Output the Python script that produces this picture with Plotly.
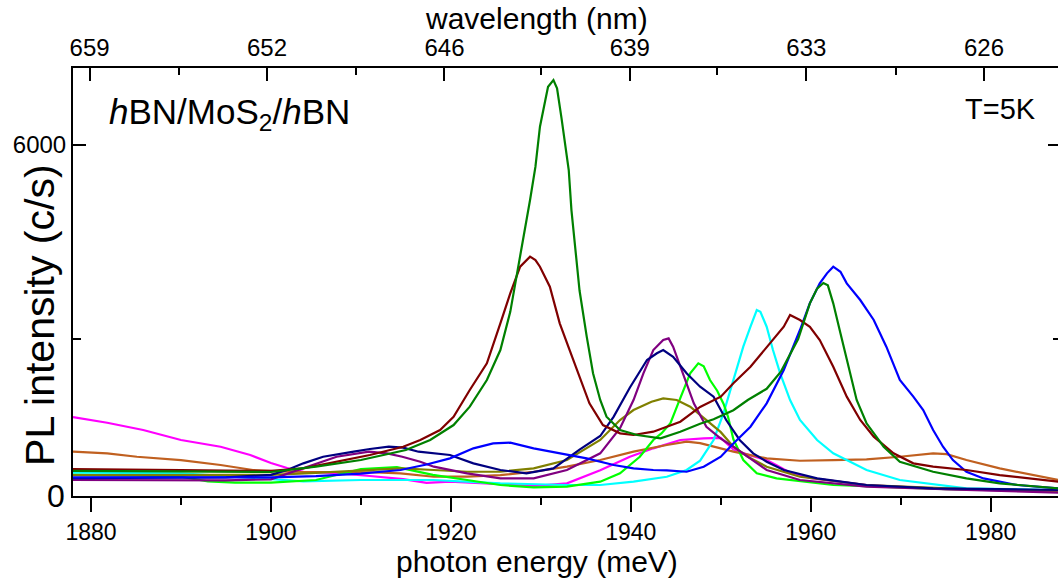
import plotly.graph_objects as go

# ---------------- data (photon energy in meV, PL intensity in c/s) ----------------
E_green = [1878, 1885, 1890, 1895, 1900, 1905, 1910, 1915, 1917.7, 1920.3, 1922.1, 1924, 1925.5, 1926.6,
           1927.7, 1928.8, 1929.4, 1929.9, 1930.5, 1930.8, 1931.4, 1931.8, 1932.3, 1932.7, 1933.1, 1933.4,
           1933.8, 1934.3, 1935.1, 1935.8, 1936.6, 1937.3, 1938.8, 1940.7, 1943.3, 1945.5, 1947.7, 1949.2,
           1951.4, 1953, 1955.1, 1956.7, 1958.6, 1959.9, 1960.7, 1961.4, 1961.9, 1962.5, 1963.3, 1964,
           1965.1, 1966.2, 1968.1, 1969.9, 1973.6, 1977.3, 1981, 1987.5]
I_green = [960, 955, 950, 945, 944, 1026, 1129, 1284, 1440, 1670, 1954, 2366, 2830, 3420,
           4273, 5149, 5664, 6283, 6695, 6900, 7004, 6876, 6412, 6026, 5613, 4994,
           4427, 3750, 3036, 2470, 2057, 1799, 1593, 1516, 1465, 1567, 1690, 1760,
           1900, 2057, 2230, 2500, 3000, 3552, 3780, 3866, 3830, 3552, 3088, 2700,
           2057, 1697, 1335, 1103, 948, 845, 769, 690]

E_darkred = [1878, 1885, 1890, 1895, 1900, 1903.6, 1907.3, 1911, 1914.7, 1916.6, 1918.8, 1920.3, 1922.1,
             1924, 1925.5, 1926.6, 1927.7, 1928.8, 1929.4, 1929.9, 1931, 1932.1, 1933.2, 1934.3, 1935.4,
             1936.9, 1938.8, 1940.3, 1942.5, 1945.5, 1947.7, 1950, 1951.4, 1953.3, 1955.1, 1957, 1957.7,
             1958.8, 1959.9, 1961, 1962.5, 1964, 1965.5, 1967, 1969.2, 1971.4, 1973.6, 1977.3, 1981, 1987.5]
I_darkred = [990, 985, 975, 965, 960, 1000, 1103, 1207, 1335, 1439, 1593, 1799, 2212,
             2624, 3242, 3706, 4118, 4273, 4221, 4118, 3809, 3242, 2830, 2418, 2006,
             1670, 1542, 1516, 1567, 1722, 1950, 2109, 2315, 2572, 2881, 3190, 3371,
             3294, 3190, 2985, 2572, 2109, 1748, 1490, 1233, 1078, 1026, 975, 897, 794]

E_blue = [1878, 1885, 1890, 1895, 1900, 1905, 1910, 1914.4, 1917.3, 1919.9, 1922.5, 1924.7, 1926.6,
          1929.2, 1932.1, 1935.1, 1938.1, 1940.3, 1942.5, 1944, 1946.2, 1948.1, 1950, 1951.4, 1953.3,
          1955.1, 1957, 1958.8, 1959.9, 1961, 1961.8, 1962.5, 1963.3, 1964, 1965.5, 1967, 1968.4,
          1969.9, 1971.4, 1972.5, 1973.6, 1974.7, 1975.8, 1977.3, 1979.2, 1982.9, 1987.5]
I_blue = [860, 860, 855, 855, 860, 880, 920, 975, 1060, 1155, 1310, 1386, 1397,
          1310, 1233, 1155, 1052, 1000, 975, 970, 948, 1026, 1180, 1386, 1644,
          2006, 2521, 3139, 3552, 3861, 4015, 4118, 4040, 3861, 3603, 3294, 2881,
          2366, 2109, 1902, 1593, 1335, 1129, 948, 845, 743, 691]

E_navy = [1878, 1885, 1890, 1895, 1900, 1901.8, 1903.6, 1905.8, 1909.2, 1911, 1913.1, 1914.7, 1916.4,
          1919.9, 1922.5, 1925.5, 1928.4, 1931.4, 1934.3, 1936.6, 1938.1, 1939.9, 1941.8, 1942.9, 1943.6,
          1944.7, 1946.2, 1947.7, 1949.2, 1950.6, 1952.1, 1953.6, 1955.1, 1957, 1960.7, 1966.2, 1973.6, 1987.5]
I_navy = [850, 850, 850, 860, 900, 975, 1078, 1180, 1258, 1300, 1335, 1320, 1258,
          1207, 1078, 975, 923, 1000, 1290, 1500, 1800, 2250, 2675, 2779, 2830,
          2726, 2470, 2263, 2109, 1748, 1439, 1233, 1103, 975, 845, 743, 691, 666]

E_purple = [1878, 1885, 1890, 1895, 1900, 1903.6, 1907.3, 1910.9, 1912.9, 1914.6, 1916.6, 1918.1, 1921.8,
            1925.5, 1929.2, 1932.9, 1936.6, 1938.8, 1940.3, 1941.4, 1942.5, 1943.6, 1944.2, 1944.7, 1945.8,
            1947, 1948.4, 1950, 1951.4, 1955.1, 1958.8, 1966.2, 1977.3, 1987.5]
I_purple = [820, 820, 815, 815, 830, 1000, 1180, 1258, 1233, 1180, 1103, 1026, 923,
            845, 845, 975, 1233, 1620, 2057, 2470, 2830, 2985, 3010, 2881, 2470,
            2006, 1644, 1460, 1335, 975, 820, 717, 666, 625]

E_olive = [1878, 1885, 1890, 1895, 1900, 1905, 1911, 1914.5, 1918.1, 1921.8, 1925.5, 1929.2, 1932.9,
           1936.6, 1938.8, 1940.3, 1942.3, 1943.6, 1945.1, 1946.6, 1948.1, 1950, 1951.4, 1953, 1955.1,
           1958.8, 1966.2, 1977.3, 1987.5]
I_olive = [897, 897, 890, 890, 900, 930, 975, 1000, 975, 948, 948, 1000, 1129,
           1439, 1748, 1902, 2031, 2083, 2057, 1954, 1780, 1560, 1335, 1180, 1026,
           871, 743, 680, 650]

E_lime = [1878, 1885, 1890, 1893, 1896, 1900, 1905, 1910, 1914, 1918, 1921.8, 1925.5, 1929.2, 1932.9,
          1936.6, 1938.8, 1941, 1942.5, 1943.4, 1944.4, 1945.4, 1946.6, 1947.5, 1948.1, 1948.8, 1949.6,
          1950.3, 1950.8, 1951.4, 1952.5, 1954, 1956.2, 1962.5, 1975, 1987.5]
I_lime = [900, 890, 870, 800, 780, 780, 820, 990, 1020, 900, 820, 743, 705, 717,
          794, 923, 1180, 1439, 1540, 1700, 2050, 2470, 2624, 2580, 2366, 2200,
          2000, 1800, 1450, 1129, 923, 845, 743, 680, 650]

E_cyan = [1878, 1885, 1890, 1895, 1900, 1903.6, 1910, 1918, 1925.5, 1932.9, 1936.6, 1940.3, 1944,
          1946.2, 1947.7, 1949.2, 1950.3, 1951.4, 1952.5, 1953.3, 1954, 1954.4, 1955.1, 1955.8, 1956.6,
          1957.7, 1958.8, 1960.7, 1962.5, 1966.2, 1969.9, 1977.3, 1987.5]
I_cyan = [935, 930, 925, 880, 830, 800, 820, 820, 769, 743, 743, 794, 871,
          975, 1120, 1439, 1851, 2366, 2881, 3190, 3448, 3420, 3190, 2830, 2470,
          2057, 1748, 1439, 1233, 975, 820, 691, 666]

E_magenta = [1878, 1881.8, 1885.8, 1890, 1894.4, 1897.7, 1900, 1901.8, 1903.6, 1907.3, 1911, 1914.7,
             1917.3, 1919.9, 1925.5, 1929.2, 1932.9, 1936.6, 1939.9, 1942.5, 1945.5, 1948.1, 1950, 1951.4,
             1953.3, 1955.1, 1956.2, 1957.5, 1960, 1966.2, 1975, 1987.5]
I_magenta = [1794, 1706, 1593, 1439, 1335, 1207, 1083, 1006, 948, 928, 882, 835,
             777, 794, 758, 727, 769, 970, 1180, 1310, 1439, 1465, 1470, 1290,
             1200, 1129, 1050, 950, 850, 743, 680, 640]

E_orange = [1878, 1881.8, 1885.1, 1890, 1894.4, 1898, 1901.8, 1907.3, 1911, 1914.4, 1918.1, 1921.8,
            1925.5, 1929.2, 1932.9, 1936.6, 1940.3, 1944, 1946.2, 1947.7, 1950, 1951.4, 1955.1, 1958.8,
            1962.5, 1966.2, 1969.9, 1973.6, 1975.1, 1977.3, 1981, 1984.7, 1987.5]
I_orange = [1258, 1233, 1180, 1129, 1052, 975, 948, 948, 940, 923, 871, 871,
            897, 948, 1026, 1129, 1258, 1361, 1413, 1390, 1310, 1258, 1155, 1118,
            1129, 1140, 1180, 1233, 1220, 1129, 1000, 897, 820]

series = [
    ("magenta", E_magenta, I_magenta, "#ff00ff"),
    ("orange", E_orange, I_orange, "#c06020"),
    ("cyan", E_cyan, I_cyan, "#00ffff"),
    ("lime", E_lime, I_lime, "#00ff00"),
    ("olive", E_olive, I_olive, "#808000"),
    ("purple", E_purple, I_purple, "#800080"),
    ("navy", E_navy, I_navy, "#000080"),
    ("blue", E_blue, I_blue, "#0000ff"),
    ("darkred", E_darkred, I_darkred, "#800000"),
    ("green", E_green, I_green, "#008000"),
]

# axis ticks
X_MAJOR = [1880, 1900, 1920, 1940, 1960, 1980]
TOP_TICK_ENERGY = [1879.84, 1899.56, 1919.29, 1939.89, 1959.51, 1979.26]
TOP_TICK_LABELS = ["659", "652", "646", "639", "633", "626"]
TOP_MINOR_ENERGY = [1889.81, 1909.48, 1930.07, 1949.62, 1969.44]
Y_MAJOR = [6000]
Y_MAJOR_LABELS = ["6000"]
Y_MINOR = [3000]

X_RANGE = [1878.0, 1987.48]
Y_RANGE = [573, 7190]

FONT = "Arial, Liberation Sans, sans-serif"

fig = go.Figure()
for name, e, i, c in series:
    fig.add_trace(go.Scatter(x=e, y=i, mode="lines", name=name,
                             line=dict(color=c, width=2.2), showlegend=False))

# invisible trace to activate top axis / right axis
fig.add_trace(go.Scatter(x=[X_RANGE[0]], y=[Y_RANGE[0]], xaxis="x2", yaxis="y2",
                         mode="markers", marker=dict(opacity=0), showlegend=False, hoverinfo="skip"))

fig.update_layout(
    width=1058, height=582,
    margin=dict(l=73, r=0, t=68, b=86),
    paper_bgcolor="white", plot_bgcolor="white",
    font=dict(family=FONT, color="black"),
    xaxis=dict(range=X_RANGE, showgrid=False, zeroline=False, showline=True, linecolor="black",
               linewidth=2, ticks="outside", ticklen=14, tickwidth=2, tickcolor="black",
               tickmode="array", tickvals=X_MAJOR, tickfont=dict(size=23),
               minor=dict(tickmode="linear", tick0=1890, dtick=20, ticks="outside", ticklen=7,
                          tickwidth=2, tickcolor="black", showgrid=False)),
    xaxis2=dict(range=X_RANGE, overlaying="x", side="top", showgrid=False, zeroline=False,
                showline=True, linecolor="black", linewidth=2, ticks="inside", ticklen=13,
                tickwidth=2, tickcolor="black", tickmode="array", tickvals=TOP_TICK_ENERGY,
                ticktext=TOP_TICK_LABELS, tickfont=dict(size=24),
                minor=dict(tickmode="array", tickvals=TOP_MINOR_ENERGY, ticks="inside", ticklen=7,
                           tickwidth=2, tickcolor="black", showgrid=False)),
    yaxis=dict(range=Y_RANGE, showgrid=False, zeroline=False, showline=True, linecolor="black",
               linewidth=2, ticks="inside", ticklen=13, tickwidth=2, tickcolor="black",
               tickmode="array", tickvals=Y_MAJOR, ticktext=Y_MAJOR_LABELS, tickfont=dict(size=24),
               minor=dict(tickmode="array", tickvals=Y_MINOR, ticks="inside", ticklen=8,
                          tickwidth=2, tickcolor="black", showgrid=False)),
    yaxis2=dict(range=Y_RANGE, overlaying="y", side="right", showgrid=False, zeroline=False,
                showline=False, ticks="inside", ticklen=10, tickwidth=2, tickcolor="black",
                tickmode="array", tickvals=Y_MAJOR, showticklabels=False,
                minor=dict(tickmode="array", tickvals=Y_MINOR, ticks="inside", ticklen=5,
                           tickwidth=2, tickcolor="black", showgrid=False)),
)

ann = [
    dict(text="photon energy (meV)", x=0.471, y=-0.152, font=dict(size=30)),
    dict(text="wavelength (nm)", x=0.471, y=1.115, font=dict(size=30)),
    dict(text="PL intensity (c/s)", x=-0.0335, y=0.423, textangle=-90, font=dict(size=41)),
    dict(text="0", x=-0.0173, y=0.0, font=dict(size=32)),
    dict(text="<i>h</i>BN/MoS<sub>2</sub>/<i>h</i>BN", x=0.0345, y=0.893, xanchor="left",
         font=dict(size=35)),
    dict(text="T=5K", x=0.98, y=0.904, xanchor="right", font=dict(size=29)),
]
for a in ann:
    a.setdefault("xanchor", "center")
    a.setdefault("yanchor", "middle")
    fig.add_annotation(xref="paper", yref="paper", showarrow=False, **a)

fig.write_html("out.html", config={"displayModeBar": False},
               post_script="document.body.style.margin='0';document.body.style.overflow='hidden';")
